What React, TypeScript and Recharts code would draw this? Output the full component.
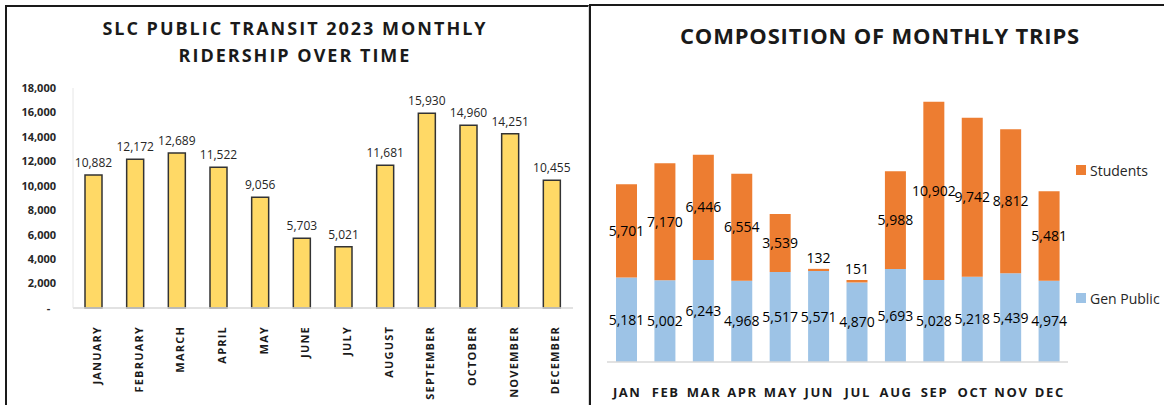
import { BarChart, Bar, XAxis, YAxis, LabelList } from "recharts";

const monthNames = [
  "JANUARY", "FEBRUARY", "MARCH", "APRIL", "MAY", "JUNE",
  "JULY", "AUGUST", "SEPTEMBER", "OCTOBER", "NOVEMBER", "DECEMBER",
];
const monthShort = ["JAN", "FEB", "MAR", "APR", "MAY", "JUN", "JUL", "AUG", "SEP", "OCT", "NOV", "DEC"];
const totalRiders = [10882, 12172, 12689, 11522, 9056, 5703, 5021, 11681, 15930, 14960, 14251, 10455];
const genPublic = [5181, 5002, 6243, 4968, 5517, 5571, 4870, 5693, 5028, 5218, 5439, 4974];
const students = [5701, 7170, 6446, 6554, 3539, 132, 151, 5988, 10902, 9742, 8812, 5481];
const yTicks = [0, 2000, 4000, 6000, 8000, 10000, 12000, 14000, 16000, 18000];

const FONT = "'Open Sans', 'Liberation Sans', sans-serif";
const YELLOW = "#FFD966";
const ORANGE = "#ED7D31";
const BLUE = "#9DC3E6";

const ridershipData = monthNames.map((m, i) => ({ month: m, riders: totalRiders[i] }));
const tripData = monthShort.map((m, i) => ({
  month: m,
  genPublic: genPublic[i],
  students: students[i],
}));

const fmt = (v: number) => v.toLocaleString("en-US");

// rotated month names under the left chart
const MonthTick = (props: any) => {
  const { x, y, payload } = props;
  return (
    <text
      transform={`translate(${x + 7},${y + 10}) rotate(-90)`}
      textAnchor="end"
      fontFamily={FONT}
      fontSize={11}
      fontWeight={700}
      letterSpacing={1.2}
      fill="#1a1a1a"
    >
      {payload.value}
    </text>
  );
};

const ShortTick = (props: any) => {
  const { x, y, payload } = props;
  return (
    <text
      x={x + 1}
      y={y + 27}
      textAnchor="middle"
      fontFamily={FONT}
      fontSize={13}
      fontWeight={700}
      letterSpacing={1.6}
      fill="#1a1a1a"
    >
      {payload.value}
    </text>
  );
};

// centred label, lifted above the bar when the segment is too thin
const SegmentLabel = (props: any) => {
  const { x, y, width, height, value } = props;
  const cx = x + width / 2;
  const thin = Math.abs(height) < 12;
  const cy = thin ? y - 11 : y + height / 2;
  return (
    <text
      x={cx}
      y={cy}
      dy="0.36em"
      textAnchor="middle"
      fontFamily={FONT}
      fontSize={14}
      fill="#000"
    >
      {fmt(value)}
    </text>
  );
};

const legendItems = [
  { name: "Students", color: ORANGE, top: 160 },
  { name: "Gen Public", color: BLUE, top: 288 },
];

export default function App() {
  return (
    <div style={{ position: "fixed", left: 0, top: 0, width: 1164, height: 405, background: "#fff", overflow: "hidden" }}>
      {/* panel frames */}
      <div
        style={{
          position: "absolute", left: 5, top: 5, width: 581, height: 410,
          borderLeft: "2px solid #1a1a1a", borderTop: "2px solid #1a1a1a", borderRight: "1px solid #d9d9d9",
        }}
      />
      <div
        style={{
          position: "absolute", left: 589, top: 4, width: 580, height: 410,
          borderLeft: "2px solid #1a1a1a", borderTop: "2px solid #1a1a1a",
        }}
      />

      {/* left chart */}
      <div
        style={{
          position: "absolute", left: 0, top: 15, width: 590, textAlign: "center",
          fontFamily: FONT, fontWeight: 700, fontSize: 18, lineHeight: "27px", letterSpacing: 2, color: "#1a1a1a",
        }}
      >
        SLC PUBLIC TRANSIT 2023 MONTHLY
        <br />
        RIDERSHIP OVER TIME
      </div>
      <div style={{ position: "absolute", left: 0, top: 0 }}>
        <BarChart width={588} height={405} data={ridershipData} margin={{ top: 88, right: 15, bottom: 0, left: 0 }}>
          <XAxis
            dataKey="month"
            interval={0}
            height={97}
            tickLine={false}
            axisLine={{ stroke: "#d9d9d9", strokeWidth: 1.5 }}
            tick={<MonthTick />}
          />
          <YAxis
            width={73}
            domain={[0, 18000]}
            ticks={yTicks}
            tickLine={false}
            tickSize={0}
            tickMargin={17}
            axisLine={{ stroke: "#e6e6e6" }}
            tickFormatter={(v: number) => (v === 0 ? "-\u00A0\u00A0" : fmt(v))}
            tick={{ fontFamily: FONT, fontSize: 11, fontWeight: 700, fill: "#262626" }}
          />
          <Bar dataKey="riders" fill={YELLOW} stroke="#333" strokeWidth={1.5} barSize={17} isAnimationActive={false}>
            <LabelList
              dataKey="riders"
              position="top"
              offset={8}
              formatter={(v: any) => fmt(v)}
              style={{ fontFamily: FONT, fontSize: 12, fill: "#262626" }}
            />
          </Bar>
        </BarChart>
      </div>

      {/* right chart */}
      <div
        style={{
          position: "absolute", left: 590, top: 20, width: 580, textAlign: "center",
          fontFamily: FONT, fontWeight: 700, fontSize: 22, letterSpacing: 0.8, color: "#1a1a1a",
        }}
      >
        COMPOSITION OF MONTHLY TRIPS
      </div>
      <div style={{ position: "absolute", left: 590, top: 0 }}>
        <BarChart width={574} height={405} data={tripData} margin={{ top: 68, right: 96, bottom: 0, left: 17 }}>
          <XAxis
            dataKey="month"
            interval={0}
            height={43}
            tickLine={false}
            axisLine={{ stroke: "#d9d9d9", strokeWidth: 1.5 }}
            tick={<ShortTick />}
          />
          <YAxis hide domain={[0, 18000]} />
          <Bar dataKey="genPublic" name="Gen Public" stackId="a" fill={BLUE} barSize={21} isAnimationActive={false}>
            <LabelList dataKey="genPublic" content={<SegmentLabel />} />
          </Bar>
          <Bar dataKey="students" name="Students" stackId="a" fill={ORANGE} barSize={21} isAnimationActive={false}>
            <LabelList dataKey="students" content={<SegmentLabel />} />
          </Bar>
        </BarChart>
      </div>
      {legendItems.map((it) => (
        <div
          key={it.name}
          style={{
            position: "absolute", left: 1076, top: it.top, display: "flex", alignItems: "center",
            fontFamily: FONT, fontSize: 14, color: "#262626", whiteSpace: "nowrap", height: 20,
          }}
        >
          <span style={{ width: 10, height: 10, background: it.color, marginRight: 4, display: "inline-block" }} />
          {it.name}
        </div>
      ))}
    </div>
  );
}
